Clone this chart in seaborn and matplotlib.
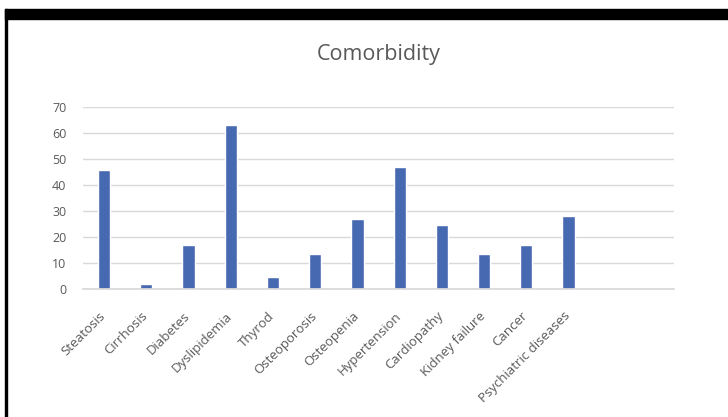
import matplotlib
matplotlib.use("Agg")
import matplotlib.pyplot as plt
import matplotlib.transforms as mtransforms
import seaborn as sns
from matplotlib.patches import Rectangle

# Data
categories = [
    "Steatosis", "Cirrhosis", "Diabetes", "Dyslipidemia", "Thyrod",
    "Osteoporosis", "Osteopenia", "Hypertension", "Cardiopathy",
    "Kidney failure", "Cancer", "Psychiatric diseases",
]
counts = [46, 2, 17, 63, 4.5, 13.5, 27, 47, 24.5, 13.5, 17, 28]
y_ticks = [0, 10, 20, 30, 40, 50, 60, 70]

sns.set_theme(style="white")
plt.rcParams["font.family"] = ["Open Sans", "DejaVu Sans"]

fig = plt.figure(figsize=(7.28, 4.17), dpi=100)
ax = fig.add_axes([0.114, 0.307, 0.812, 0.436])

sns.barplot(
    x=categories,
    y=counts,
    color="#4769B1",
    width=0.29,
    saturation=1,
    ax=ax,
)

ax.set_xlim(-0.5, 13.5)
ax.set_ylim(0, 70)
ax.set_yticks(y_ticks)
ax.yaxis.grid(True, color="#d9d9d9", linewidth=1)
ax.set_axisbelow(True)
for side in ["top", "right", "left"]:
    ax.spines[side].set_visible(False)
ax.spines["bottom"].set_color("#d9d9d9")

ax.tick_params(axis="y", labelsize=9, labelcolor="#595959", length=0, pad=12)
ax.tick_params(axis="x", labelsize=9.5, labelcolor="#595959", length=0, pad=9)
plt.setp(ax.get_xticklabels(), rotation=45, ha="right", rotation_mode="anchor")

# nudge rotated labels a little down and left
shift = mtransforms.ScaledTranslation(-5 / 100, -8 / 100, fig.dpi_scale_trans)
for lbl in ax.get_xticklabels():
    lbl.set_transform(lbl.get_transform() + shift)

ax.set_title("Comorbidity", fontsize=15.5, color="#595959", pad=34)

# frame pieces around the screenshot
fig.patches.append(Rectangle((5 / 728, 1 - 19 / 417), 1, 10 / 417,
                             transform=fig.transFigure, color="black", zorder=5))
fig.patches.append(Rectangle((5 / 728, 0), 2 / 728, 1 - 9 / 417,
                             transform=fig.transFigure, color="black", zorder=5))

fig.savefig("out.png", dpi=100)
